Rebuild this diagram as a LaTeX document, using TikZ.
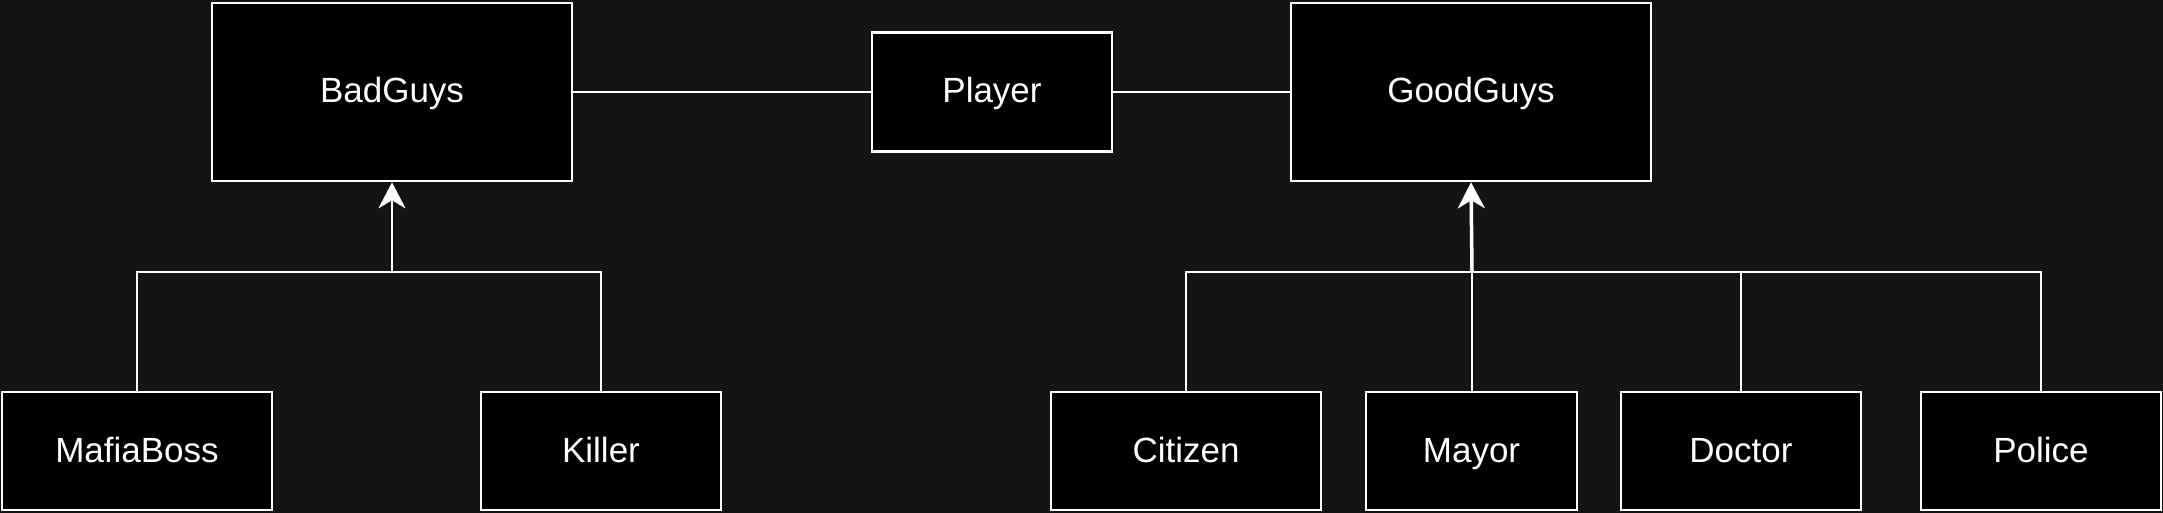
\documentclass[tikz,border=0pt]{standalone}
\usepackage{fontspec}
\setmainfont{Liberation Sans}
\usetikzlibrary{arrows.meta}
\definecolor{bgc}{HTML}{141414}
\begin{document}
\begin{tikzpicture}[x=1pt,y=-1pt,
  box/.style={draw=white,fill=black,line width=2.6pt,text=white,inner sep=0pt,
    text height=26pt,text depth=4pt,
    font=\fontsize{35}{40}\selectfont},
  conn/.style={draw=white,line width=2pt},
  inh/.style={conn,-{Stealth[length=26pt,width=27pt,inset=8pt]}}]
\fill[bgc] (0,0) rectangle (2163,513);
\useasboundingbox (0,0) rectangle (2163,513);
\node[box,minimum width=360pt,minimum height=178pt] (bad) at (392,92) {BadGuys};
\node[box,minimum width=240pt,minimum height=119pt] (player) at (992,92) {Player};
\node[box,minimum width=360pt,minimum height=178pt] (good) at (1471,92) {GoodGuys};
\node[box,minimum width=270pt,minimum height=118pt] (mafia) at (137,451) {MafiaBoss};
\node[box,minimum width=240pt,minimum height=118pt] (killer) at (601,451) {Killer};
\node[box,minimum width=270pt,minimum height=118pt] (citizen) at (1186,451) {Citizen};
\node[box,minimum width=211pt,minimum height=118pt] (mayor) at (1471.5,451) {Mayor};
\node[box,minimum width=240pt,minimum height=118pt] (doctor) at (1741,451) {Doctor};
\node[box,minimum width=240pt,minimum height=118pt] (police) at (2041,451) {Police};
\coordinate (jl) at (392,272);
\coordinate (jr) at (1472,272);
\draw[conn] (bad.east) -- (player.west);
\draw[conn] (player.east) -- (good.west);
\draw[conn] (mafia.north) |- (jl);
\draw[conn] (killer.north) |- (jl);
\draw[inh] (jl) -- (bad.south);
\draw[conn] (citizen.north) |- (jr);
\draw[conn] (mayor.north) |- (jr);
\draw[conn] (doctor.north) |- (jr);
\draw[conn] (police.north) |- (jr);
\draw[inh,line width=3.5pt] (jr) -- (good.south);
\end{tikzpicture}
\end{document}
